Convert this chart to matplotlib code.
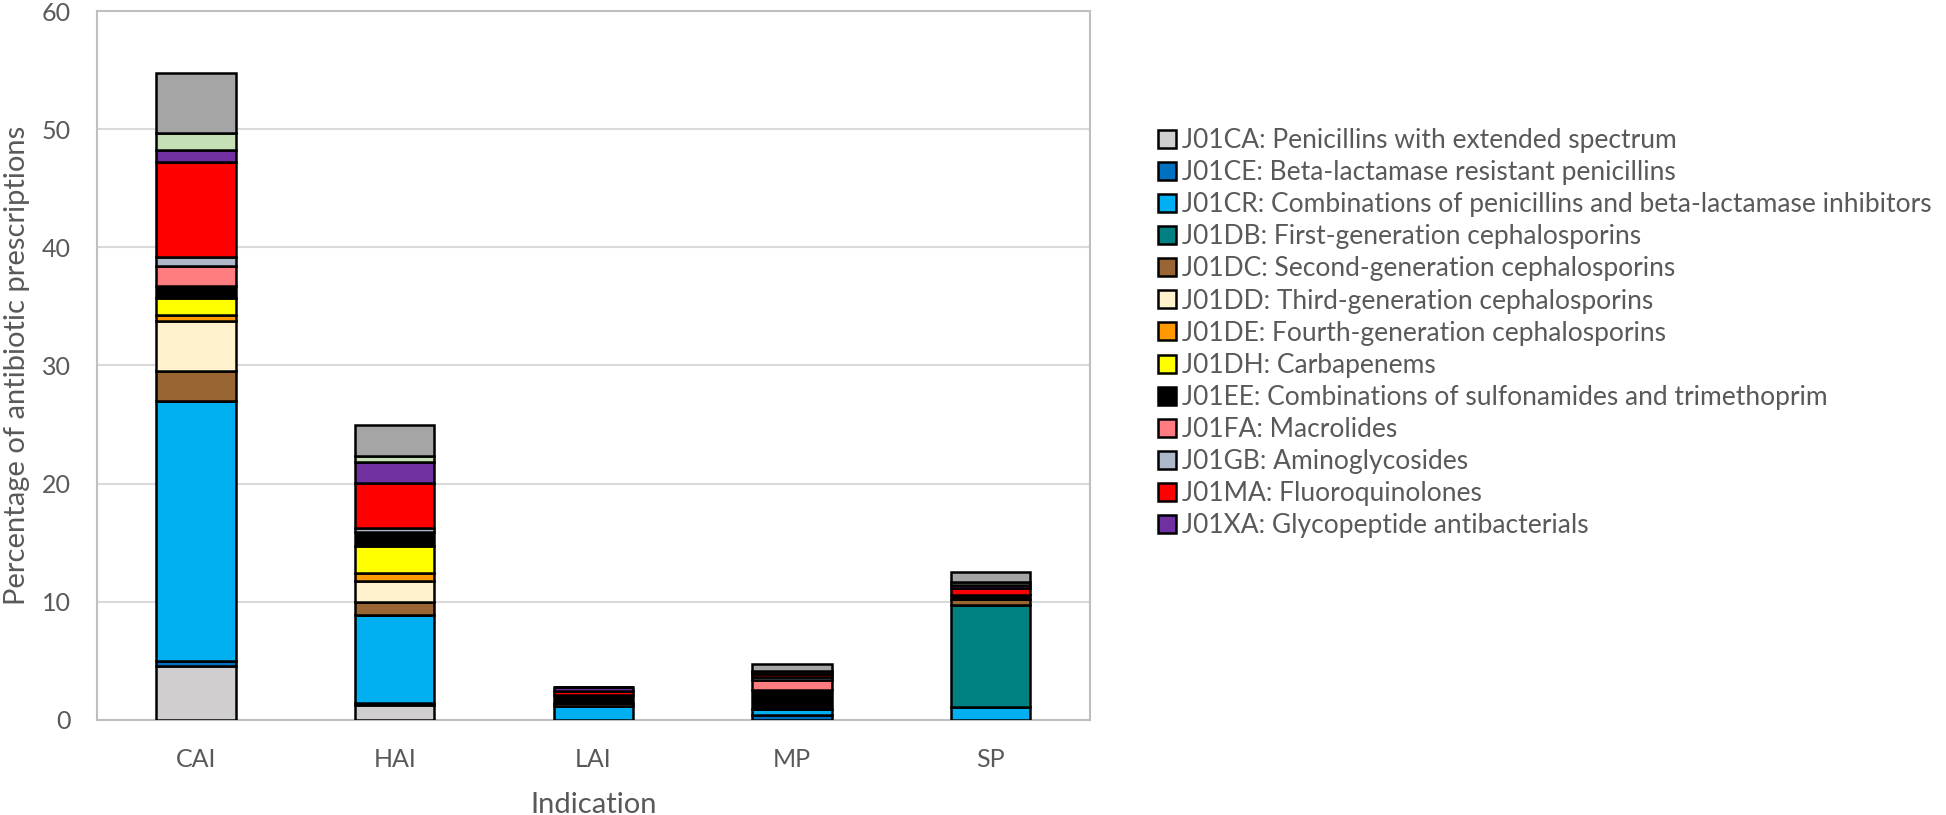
import numpy as np
import matplotlib
matplotlib.use('Agg')
import matplotlib.pyplot as plt
from matplotlib.patches import Patch

plt.rcParams['font.family'] = ['Lato', 'DejaVu Sans']

categories = ['CAI', 'HAI', 'LAI', 'MP', 'SP']

# share of prescriptions per ATC group, stacked bottom -> top
j01ca = [4.6, 1.3, 0.0, 0.0, 0.0]
j01ce = [0.4, 0.1, 0.0, 0.4, 0.0]
j01cr = [22.0, 7.5, 1.2, 0.5, 1.1]
j01db = [0.0, 0.0, 0.0, 0.0, 8.6]
j01dc = [2.5, 1.1, 0.2, 0.0, 0.5]
j01dd = [4.3, 1.8, 0.0, 0.0, 0.0]
j01de = [0.45, 0.65, 0.0, 0.0, 0.0]
j01dh = [1.45, 2.3, 0.0, 0.0, 0.0]
j01ee = [1.0, 1.2, 0.75, 1.6, 0.35]
j01fa = [1.7, 0.0, 0.0, 0.9, 0.0]
j01gb = [0.8, 0.3, 0.0, 0.2, 0.0]
j01ma = [8.05, 3.8, 0.3, 0.25, 0.65]
j01xa = [1.0, 1.8, 0.3, 0.2, 0.2]
other_a = [1.4, 0.5, 0.0, 0.1, 0.3]   # light green, not in legend
other_b = [5.1, 2.65, 0.0, 0.55, 0.8]  # dark grey, not in legend

labels = [
    'J01CA: Penicillins with extended spectrum',
    'J01CE: Beta-lactamase resistant penicillins',
    'J01CR: Combinations of penicillins and beta-lactamase inhibitors',
    'J01DB: First-generation cephalosporins',
    'J01DC: Second-generation cephalosporins',
    'J01DD: Third-generation cephalosporins',
    'J01DE: Fourth-generation cephalosporins',
    'J01DH: Carbapenems',
    'J01EE: Combinations of sulfonamides and trimethoprim',
    'J01FA: Macrolides',
    'J01GB: Aminoglycosides',
    'J01MA: Fluoroquinolones',
    'J01XA: Glycopeptide antibacterials',
]
series = [j01ca, j01ce, j01cr, j01db, j01dc, j01dd, j01de, j01dh,
          j01ee, j01fa, j01gb, j01ma, j01xa, other_a, other_b]
colors = ['#D0CECE', '#0070C0', '#00B0F0', '#008080', '#996633', '#FFF2CC',
          '#FF9900', '#FFFF00', '#000000', '#FF7C80', '#ADB9CA', '#FF0000',
          '#7030A0', '#C5E0B4', '#A5A5A5']

fig = plt.figure(figsize=(19.46, 8.15), dpi=100)
ax = fig.add_axes([0.0498, 0.1166, 0.5102, 0.8699])

x = np.arange(len(categories))
bottom = np.zeros(len(categories))
for vals, col in zip(series, colors):
    vals = np.array(vals)
    ax.bar(x, vals, width=0.4, bottom=bottom, color=col,
           edgecolor='black', linewidth=1.8, zorder=3)
    bottom += vals

ax.set_xlim(-0.5, 4.5)
ax.set_ylim(0, 60)
ax.set_yticks(range(0, 61, 10))
ax.set_xticks(x)
ax.set_xticklabels(categories)
ax.tick_params(length=0, labelsize=18, colors='#595959')
ax.tick_params(axis='x', pad=20)
ax.tick_params(axis='y', pad=19)
ax.grid(axis='y', color='#D9D9D9', linewidth=1.5, zorder=0)
for sp in ax.spines.values():
    sp.set_color('#BFBFBF')
    sp.set_linewidth(1.5)

ax.set_xlabel('Indication', fontsize=21, color='#595959', labelpad=15)
ax.set_ylabel('Percentage of antibiotic prescriptions', fontsize=21,
              color='#595959', labelpad=8)

handles = [Patch(facecolor=c, edgecolor='black', linewidth=1.8) for c in colors[:13]]
fig.legend(handles, labels, loc='upper left', bbox_to_anchor=(0.595, 0.843),
           frameon=False, fontsize=19, labelcolor='#595959',
           handlelength=0.67, handleheight=0.67, handletextpad=0.25,
           labelspacing=0.27, borderpad=0, borderaxespad=0)

fig.savefig('out.png', dpi=100)
